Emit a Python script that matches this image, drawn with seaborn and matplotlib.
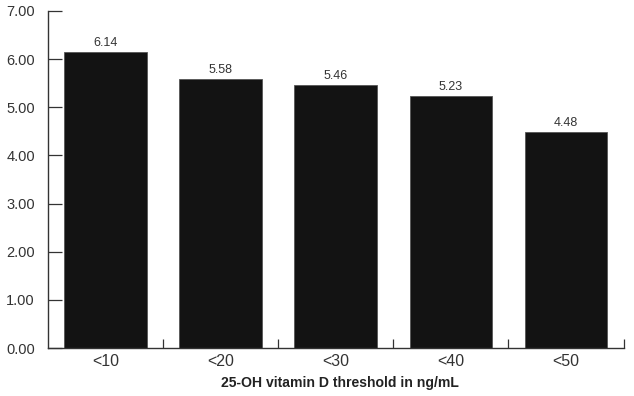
import matplotlib
matplotlib.use("Agg")
import matplotlib.pyplot as plt
import seaborn as sns
import pandas as pd

categories = ["<10", "<20", "<30", "<40", "<50"]
values = [6.14, 5.58, 5.46, 5.23, 4.48]
y_ticks = [0, 1, 2, 3, 4, 5, 6, 7]

sns.set_style("white")
plt.rcParams['font.family'] = ['Liberation Sans', 'DejaVu Sans']

df = pd.DataFrame({"cat": categories, "val": values})

fig = plt.figure(figsize=(6.34, 3.96), dpi=100)
ax = fig.add_axes([48.3/634, 1-348/396, (623.5-48.3)/634, (348-11)/396])
sns.barplot(data=df, x="cat", y="val", color="#131313", saturation=1, width=0.72, ax=ax,
            edgecolor="#555555", linewidth=0.6)

ax.set_xlim(-0.5, 4.5)
ax.set_ylim(0, 7)
ax.set_yticks(y_ticks)
ax.set_yticklabels([f"{t:.2f}" for t in y_ticks], fontsize=10.5, color="#333333")
ax.set_xticks([i + 0.5 for i in range(len(categories))])
ax.set_xticklabels([])
ax.set_xticks(range(len(categories)), minor=True)
ax.set_xticklabels(categories, minor=True, fontsize=11.5, color="#333333")
ax.tick_params(axis="x", which="minor", length=0, pad=4, bottom=False)
ax.tick_params(axis="x", which="major", direction="in", length=6.5, width=0.9, color="#333333", bottom=True)
ax.tick_params(axis="y", direction="in", length=10, width=0.9, color="#333333", pad=9.7, left=True)

for s in ["top", "right"]:
    ax.spines[s].set_visible(False)
for s in ["left", "bottom"]:
    ax.spines[s].set_color("#333333")
    ax.spines[s].set_linewidth(1.0)

for i, v in enumerate(values):
    ax.text(i, v + 0.07, f"{v:.2f}", ha="center", va="bottom", fontsize=9, color="#333333")

ax.set_xlabel("25-OH vitamin D threshold in ng/mL", fontsize=10.1, fontweight="bold", color="#222222", labelpad=5)
ax.xaxis.set_label_coords((340 - 48.3) / (623.5 - 48.3), -0.083)
ax.set_ylabel("")

fig.savefig("out.png", dpi=100)
